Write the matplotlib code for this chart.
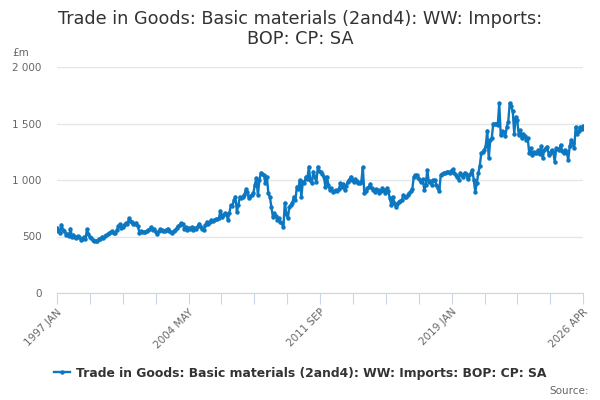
import numpy as np
import matplotlib.pyplot as plt

# monthly values, 1997 JAN .. 2026 APR
y1997 = [577, 550, 535, 605, 560, 550, 515, 525, 505, 570, 497, 515]
y1998 = [500, 490, 505, 498, 470, 480, 497, 480, 562, 520, 497, 490]
y1999 = [468, 462, 458, 463, 478, 482, 497, 490, 505, 512, 520, 530]
y2000 = [540, 548, 535, 527, 560, 590, 607, 575, 580, 600, 620, 610]
y2001 = [660, 640, 628, 615, 608, 622, 590, 532, 545, 541, 538, 544]
y2002 = [550, 560, 570, 580, 555, 562, 540, 520, 545, 562, 555, 550]
y2003 = [548, 560, 570, 552, 540, 527, 545, 556, 575, 590, 605, 620]
y2004 = [610, 565, 580, 556, 575, 570, 585, 560, 575, 570, 590, 615]
y2005 = [580, 565, 556, 600, 630, 610, 625, 645, 640, 645, 655, 654]
y2006 = [660, 728, 675, 690, 704, 700, 645, 710, 778, 770, 820, 852]
y2007 = [719, 780, 852, 840, 852, 870, 917, 890, 837, 860, 870, 882]
y2008 = [960, 1018, 867, 1000, 1065, 1050, 1044, 970, 1030, 882, 850, 763]
y2009 = [675, 704, 680, 650, 665, 630, 620, 586, 800, 700, 660, 763]
y2010 = [780, 800, 852, 822, 941, 920, 1000, 852, 985, 970, 1030, 1010]
y2011 = [1118, 1000, 970, 1074, 1030, 985, 1118, 1080, 1074, 1050, 1030, 941]
y2012 = [1030, 960, 911, 930, 896, 905, 911, 900, 917, 970, 940, 965]
y2013 = [911, 950, 985, 1000, 1030, 1000, 985, 1006, 990, 970, 975, 985]
y2014 = [1113, 882, 900, 926, 940, 965, 926, 910, 896, 920, 911, 882]
y2015 = [900, 926, 910, 882, 926, 900, 837, 778, 852, 800, 763, 790]
y2016 = [808, 815, 822, 867, 850, 852, 870, 882, 900, 917, 1030, 1040]
y2017 = [1044, 1020, 1000, 980, 1006, 911, 960, 1089, 985, 990, 956, 1000]
y2018 = [1000, 956, 930, 906, 1044, 1050, 1065, 1060, 1074, 1070, 1059, 1080]
y2019 = [1095, 1060, 1044, 1030, 1000, 1065, 1040, 1030, 1065, 1050, 1006, 1040]
y2020 = [1059, 1089, 1000, 896, 970, 1059, 1124, 1237, 1250, 1266, 1300, 1438]
y2021 = [1192, 1355, 1370, 1500, 1495, 1500, 1486, 1678, 1396, 1430, 1426, 1385]
y2022 = [1470, 1515, 1681, 1652, 1607, 1411, 1559, 1530, 1396, 1440, 1370, 1411]
y2023 = [1390, 1355, 1370, 1237, 1281, 1222, 1250, 1237, 1240, 1266, 1230, 1302]
y2024 = [1192, 1266, 1280, 1296, 1222, 1240, 1266, 1250, 1163, 1281, 1270, 1266]
y2025 = [1311, 1260, 1243, 1266, 1250, 1178, 1300, 1355, 1325, 1281, 1470, 1411]
y2026 = [1430, 1465, 1450, 1480]

values = (y1997 + y1998 + y1999 + y2000 + y2001 + y2002 + y2003 + y2004 + y2005
          + y2006 + y2007 + y2008 + y2009 + y2010 + y2011 + y2012 + y2013 + y2014
          + y2015 + y2016 + y2017 + y2018 + y2019 + y2020 + y2021 + y2022 + y2023
          + y2024 + y2025 + y2026)

tick_labels = ['1997 JAN', '2004 MAY', '2011 SEP', '2019 JAN', '2026 APR']
series_name = 'Trade in Goods: Basic materials (2and4): WW: Imports: BOP: CP: SA'

plt.rcParams['font.family'] = ['DejaVu Sans']
blue = '#0b78c1'
grey = '#666666'

fig = plt.figure(figsize=(6, 4), dpi=100)
ax = fig.add_axes([0.095, 0.2675, 0.877, 0.565])

x = np.arange(len(values))
ax.plot(x, values, color=blue, lw=1.7, marker='o', ms=2.2, label=series_name)

n = len(values) - 1
ax.set_xlim(0, n)
ax.set_ylim(0, 2000)

ticks = [i * n / 16 for i in range(17)]
ax.set_xticks(ticks)
lbls = [''] * 17
for k, t in enumerate(tick_labels):
    lbls[k * 4] = t
ax.set_xticklabels(lbls, rotation=45, ha='right', rotation_mode='anchor',
                   fontsize=7.5, color=grey)
ax.tick_params(axis='x', length=8, color='#ccd6eb', pad=2)

ax.set_yticks([0, 500, 1000, 1500, 2000])
ax.set_yticklabels(['0', '500', '1 000', '1 500', '2 000'], fontsize=7.5, color=grey)
ax.tick_params(axis='y', length=0, pad=11)
ax.grid(axis='y', color='#e6e6e6', lw=1)
ax.set_axisbelow(True)

for s in ['top', 'right', 'left']:
    ax.spines[s].set_visible(False)
ax.spines['bottom'].set_color('#ccd6eb')

fig.text(0.5, 0.928, 'Trade in Goods: Basic materials (2and4): WW: Imports:\nBOP: CP: SA',
         ha='center', va='center', fontsize=12.7, color='#333333', linespacing=1.15)
fig.text(0.02, 0.86, '£m', fontsize=7.5, color=grey)

leg = fig.legend(loc='center', bbox_to_anchor=(0.5, 0.067), frameon=False,
                 prop={'weight': 'bold', 'size': 8.9}, handlelength=1.3,
                 handletextpad=0.5, markerscale=1.0)
for t in leg.get_texts():
    t.set_color('#333333')
fig.text(0.982, 0.015, 'Source:', ha='right', fontsize=7.5, color=grey)

fig.savefig('out.png')
